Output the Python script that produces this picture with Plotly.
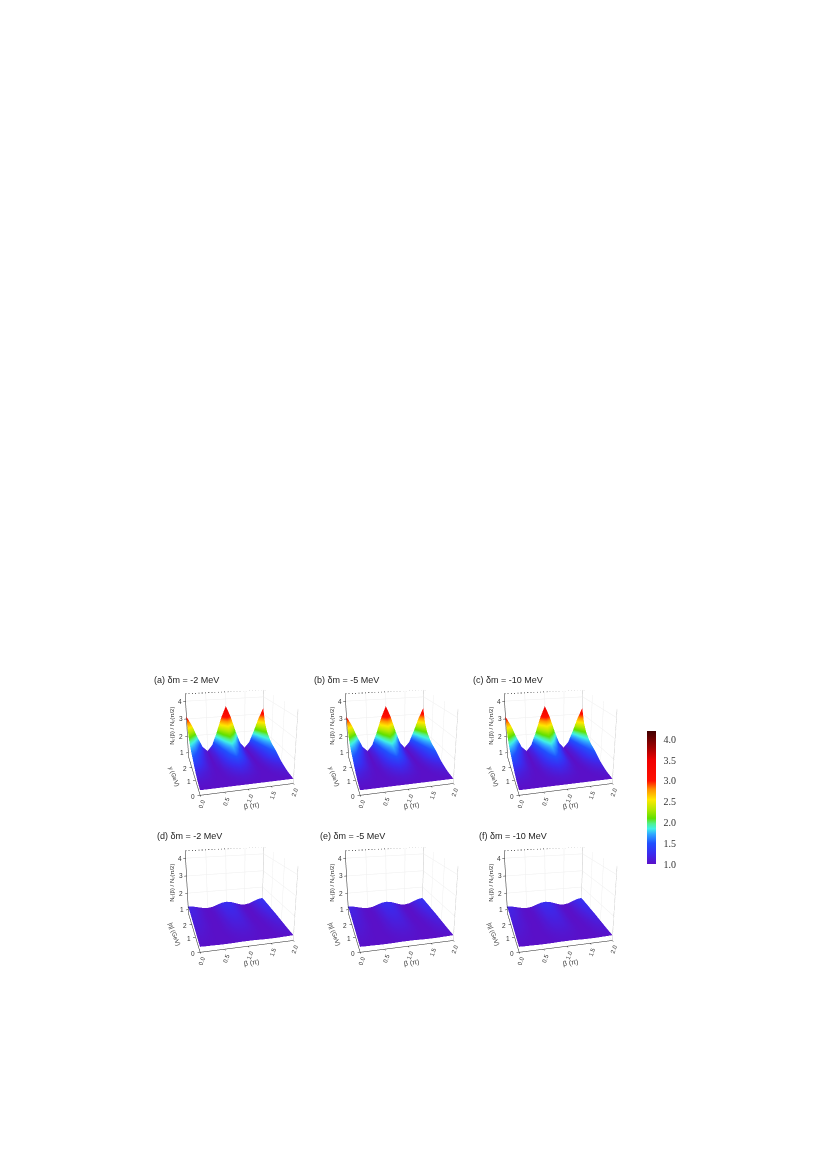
import plotly.graph_objects as go

beta = [0,.125,.25,.375,.5,.625,.75,.875,1,1.125,1.25,1.375,1.5,1.625,1.75,1.875,2]
y_vals = [0,.5,1,1.5,2,2.25,2.5,2.75,3]

z_top = [
 [1,1,1,1,1,1,1,1,1,1,1,1,1,1,1,1,1],
 [1.06,1.05,1.03,1.01,1,1.01,1.03,1.06,1.08,1.06,1.03,1.01,1,1.01,1.03,1.05,1.07],
 [1.22,1.16,1.09,1.03,1,1.03,1.11,1.20,1.26,1.20,1.11,1.03,1,1.03,1.10,1.18,1.24],
 [1.47,1.35,1.20,1.06,1,1.07,1.24,1.43,1.57,1.43,1.24,1.07,1,1.07,1.22,1.39,1.52],
 [1.67,1.50,1.28,1.09,1,1.11,1.34,1.60,1.81,1.60,1.34,1.11,1,1.10,1.31,1.55,1.73],
 [1.84,1.63,1.35,1.11,1,1.13,1.43,1.76,2.01,1.76,1.43,1.13,1,1.12,1.39,1.69,1.92],
 [2.05,1.79,1.44,1.14,1,1.17,1.53,1.96,2.27,1.96,1.53,1.17,1,1.15,1.49,1.86,2.15],
 [2.42,2.06,1.59,1.18,1,1.22,1.72,2.29,2.72,2.29,1.72,1.22,1,1.20,1.65,2.16,2.55],
 [3.15,2.61,1.90,1.28,1,1.34,2.09,2.95,3.60,2.95,2.09,1.34,1,1.31,1.99,2.76,3.35],
]
z_bottom = [
 [1.02,1.01,1.01,1,1,1,1.01,1.02,1.02,1.02,1.01,1,1,1,1.01,1.02,1.03],
 [1.04,1.04,1.02,1.01,1,1.01,1.03,1.05,1.06,1.05,1.03,1.01,1,1.01,1.04,1.06,1.07],
 [1.08,1.07,1.04,1.01,1,1.02,1.06,1.10,1.11,1.10,1.06,1.02,1,1.02,1.06,1.11,1.13],
 [1.12,1.10,1.06,1.02,1,1.02,1.08,1.14,1.16,1.14,1.08,1.02,1,1.03,1.09,1.16,1.19],
 [1.15,1.12,1.07,1.02,1,1.03,1.10,1.18,1.20,1.18,1.10,1.03,1,1.04,1.12,1.20,1.23],
 [1.16,1.14,1.08,1.02,1,1.03,1.11,1.19,1.22,1.19,1.11,1.03,1,1.04,1.13,1.22,1.26],
 [1.17,1.15,1.09,1.03,1,1.03,1.12,1.21,1.24,1.21,1.12,1.03,1,1.04,1.14,1.23,1.28],
 [1.19,1.16,1.09,1.03,1,1.04,1.13,1.23,1.26,1.23,1.13,1.04,1,1.05,1.15,1.25,1.30],
 [1.20,1.17,1.10,1.03,1,1.04,1.14,1.24,1.28,1.24,1.14,1.04,1,1.05,1.16,1.27,1.32],
]
titles = ["(a) δm = -2 MeV","(b) δm = -5 MeV","(c) δm = -10 MeV","(d) δm = -2 MeV","(e) δm = -5 MeV","(f) δm = -10 MeV"]
title_x = [152,312,471,155,318,477]
title_y = [680,680,680,836,836,836]
x_ticks = [0,.5,1,1.5,2]
x_labels = ["0.0","0.5","1.0","1.5","2.0"]
y_ticks = [0,1,2]
z_ticks = [1,2,3,4]
cb_ticks = [1,1.5,2,2.5,3,3.5,4]
cb_labels = ["1.0","1.5","2.0","2.5","3.0","3.5","4.0"]
X_RANGE=[0,2]; Y_RANGE=[0,3]; Z_RANGE=[0.75,4.4]
CMIN=1.0; CMAX=4.2
cs_pts=[(1.0,"#5a10c8"),(1.25,"#3a2cf0"),(1.5,"#2050ff"),(1.72,"#30a8ff"),(1.85,"#40f0e8"),(1.97,"#50f090"),(2.1,"#60e000"),(2.3,"#b0e800"),(2.55,"#ffe800"),(2.8,"#ff9000"),(3.0,"#ff1000"),(3.5,"#f00000"),(3.8,"#a00000"),(4.2,"#400000")]
cs=[[(v-CMIN)/(CMAX-CMIN),c] for v,c in cs_pts]

W,H=827,1170
fig=go.Figure()
CX=[236,396,555]; CY=[736,893]; PW=278; PH=262
FONT="Liberation Sans"
def tf(s): return dict(family=FONT,size=s,color="#333")
def note(x,y,z,t,dx,dy,ang,s):
    return dict(x=x,y=y,z=z,text=t,showarrow=False,xshift=dx,yshift=dy,textangle=ang,font=tf(s),xanchor="center",yanchor="middle")
layout={}
n=0
for r in range(2):
    for c in range(3):
        n+=1
        sc="scene" if n==1 else f"scene{n}"
        z=z_top if r==0 else z_bottom
        kw=dict(colorbar=dict(x=647/W,xanchor="left",y=1-864/H,yanchor="bottom",len=133/H,lenmode="fraction",thickness=9,
                 outlinewidth=0,ticks="outside",ticklen=6,tickcolor="white",tickvals=cb_ticks,ticktext=cb_labels,tickfont=dict(family="Liberation Serif",size=10,color="#333"),xpad=0,ypad=0),showscale=True) if n==1 else dict(showscale=False)
        fig.add_trace(go.Surface(x=beta,y=y_vals,z=z,scene=sc,colorscale=cs,cmin=CMIN,cmax=CMAX,
            lighting=dict(ambient=1,diffuse=0,specular=0,fresnel=0,roughness=1),hoverinfo="skip",**kw))
        x0,x1=X_RANGE; y0,y1=Y_RANGE; z0,z1=Z_RANGE
        fig.add_trace(go.Scatter3d(x=[x0,x1,x1],y=[y1,y1,y0],z=[z1,z1,z1],mode="lines",line=dict(color="#333",width=1.5,dash="dash"),scene=sc,showlegend=False,hoverinfo="skip"))
        fig.add_trace(go.Scatter3d(x=[x1,x1,None,x1,x1],y=[y0,y0,None,y1,y1],z=[z0,z1,None,z0,z1],mode="lines",line=dict(color="#bbb",width=1),scene=sc,showlegend=False,hoverinfo="skip"))
        ax=dict(showbackground=False,showgrid=True,gridcolor="#eeeeee",gridwidth=1,showline=True,linecolor="#222",linewidth=1,showticklabels=False,
                ticks="outside",ticklen=2,tickcolor="#222",zeroline=False,showspikes=False,title=dict(text=""))
        ann=[]
        for v,t in zip(x_ticks,x_labels): ann.append(note(v,y0,z0,t,2,-9,-70,6))
        for v in y_ticks: ann.append(note(x0,v,z0,str(v),-7,-1,0,6.5))
        for v in z_ticks: ann.append(note(x0,y1,v,str(v),-6,0,0,6.5))
        ann.append(note((x0+x1)/2,y0,z0,"β (π)",3,-17,-8,7))
        ann.append(note(x0,1.5,z0,"y (GeV)" if r==0 else "|η| (GeV)",-19,-3,70,6))
        ann.append(note(x0,y1,2.6,"Nₛ(β) / Nₛ(π/2)",-15,0,-90,6))
        layout[sc]=dict(
            domain=dict(x=[(CX[c]-PW/2)/W,(CX[c]+PW/2)/W],y=[1-(CY[r]+PH/2)/H,1-(CY[r]-PH/2)/H]),
            xaxis=dict(ax,range=X_RANGE,tickvals=x_ticks),
            yaxis=dict(ax,range=Y_RANGE,tickvals=y_ticks),
            zaxis=dict(ax,range=Z_RANGE,tickvals=z_ticks),
            aspectmode="manual",aspectratio=dict(x=1,y=1.02,z=.82),
            annotations=ann,
            camera=dict(eye=dict(x=-.852,y=-3.29,z=1.172),center=dict(x=0,y=0,z=0),up=dict(x=0,y=0,z=1),projection=dict(type="perspective")),
        )

anns=[dict(text=t,x=a/W,y=1-b/H,xref="paper",yref="paper",xanchor="left",yanchor="middle",showarrow=False,font=dict(family=FONT,size=9,color="#222")) for t,a,b in zip(titles,title_x,title_y)]
fig.update_layout(width=W,height=H,margin=dict(l=0,r=0,t=0,b=0),paper_bgcolor="white",showlegend=False,annotations=anns,**layout)
fig.write_html("out.html",post_script="document.body.style.margin='0';",config={"displayModeBar":False})
